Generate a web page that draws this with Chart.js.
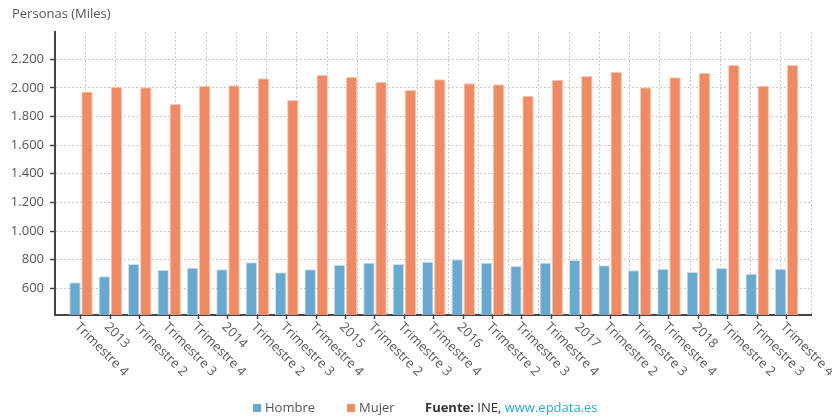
<!DOCTYPE html>
<html>
<head>
<meta charset="utf-8">
<script src="https://cdn.jsdelivr.net/npm/chart.js@4/dist/chart.umd.min.js"></script>
<style>
  html, body { margin: 0; padding: 0; background: #fff; }
  #wrap { position: relative; width: 832px; height: 418px; }
</style>
</head>
<body>
<div id="wrap"><canvas id="myChart" width="832" height="418"></canvas></div>
<script>
const categories = ['Trimestre 4', '2013', 'Trimestre 2', 'Trimestre 3', 'Trimestre 4', '2014',
  'Trimestre 2', 'Trimestre 3', 'Trimestre 4', '2015', 'Trimestre 2', 'Trimestre 3', 'Trimestre 4',
  '2016', 'Trimestre 2', 'Trimestre 3', 'Trimestre 4', '2017', 'Trimestre 2', 'Trimestre 3',
  'Trimestre 4', '2018', 'Trimestre 2', 'Trimestre 3', 'Trimestre 4'];
const hombre = [642, 684, 770, 728, 744, 733, 782, 712, 733, 765, 779, 770, 786,
  803, 779, 756, 779, 798, 761, 726, 735, 714, 742, 702, 737];
const mujer = [1976, 2009, 2004, 1888, 2013, 2018, 2067, 1916, 2090, 2076, 2041, 1986, 2060,
  2032, 2025, 1946, 2058, 2083, 2113, 2004, 2074, 2106, 2160, 2016, 2160];
const yTicks = [600, 800, 1000, 1200, 1400, 1600, 1800, 2000, 2200];

const font = '"Open Sans", "Noto Sans", sans-serif';
const textColor = '#555';

function fmt(v) {
  return String(v).replace(/\B(?=(\d{3})+(?!\d))/g, '.');
}

// title, rotated category labels and footer legend
const extras = {
  id: 'extras',
  afterDraw(chart) {
    const ctx = chart.ctx;
    const xs = chart.scales.x;
    ctx.save();
    ctx.fillStyle = textColor;
    ctx.font = '13px ' + font;
    ctx.textBaseline = 'middle';
    ctx.fillText('Personas (Miles)', 12, 14);

    categories.forEach(function (label, i) {
      const x = xs.getPixelForValue(i);
      ctx.save();
      ctx.translate(x - 4, xs.top + 10);
      ctx.rotate(Math.PI / 4);
      ctx.textAlign = 'left';
      ctx.fillStyle = '#5a5a5a';
      ctx.fillText(label, 0, 0);
      ctx.restore();
    });

    const y = 408;
    const items = [
      { text: 'Hombre', color: chart.data.datasets[0].backgroundColor, x: 253 },
      { text: 'Mujer', color: chart.data.datasets[1].backgroundColor, x: 347 }
    ];
    items.forEach(function (it) {
      ctx.fillStyle = it.color;
      ctx.fillRect(it.x, y - 4, 8, 8);
      ctx.fillStyle = textColor;
      ctx.fillText(it.text, it.x + 12, y);
    });
    ctx.font = 'bold 13px ' + font;
    ctx.fillStyle = '#333';
    ctx.fillText('Fuente:', 425, y);
    let w = ctx.measureText('Fuente: ').width;
    ctx.font = '13px ' + font;
    ctx.fillText('INE,', 425 + w, y);
    w += ctx.measureText('INE, ').width;
    ctx.fillStyle = '#29a8d4';
    ctx.fillText('www.epdata.es', 425 + w, y);
    ctx.restore();
  }
};

const ctx = document.getElementById('myChart').getContext('2d');
const myChart = new Chart(ctx, {
  type: 'bar',
  data: {
    datasets: [{
      label: 'Hombre',
      data: hombre.map((v, i) => ({ x: i, y: v })),
      backgroundColor: '#67a9cf',
      borderColor: '#c6e0f0',
      borderWidth: 1,
      borderSkipped: 'bottom'
    }, {
      label: 'Mujer',
      data: mujer.map((v, i) => ({ x: i, y: v })),
      backgroundColor: '#ef8a62',
      borderColor: '#f9c9b5',
      borderWidth: 1,
      borderSkipped: 'bottom'
    }]
  },
  options: {
    responsive: false,
    animation: false,
    layout: { padding: { top: 32, right: 21, left: 0, bottom: 0 } },
    plugins: {
      legend: { display: false },
      tooltip: { enabled: false }
    },
    datasets: {
      bar: { categoryPercentage: 0.82, barPercentage: 0.95 }
    },
    scales: {
      x: {
        type: 'linear',
        offset: false,
        min: -0.884,
        max: 24.83,
        afterBuildTicks: s => { s.ticks = categories.map((c, i) => ({ value: i })); },
        afterFit: s => { s.height = 103; },
        ticks: { display: false },
        grid: {
          drawOnChartArea: false, drawTicks: true, tickLength: 4,
          tickColor: '#444', tickWidth: 1.5, offset: false
        },
        border: { display: true, color: '#444', width: 2 }
      },
      xgrid: {
        type: 'linear',
        position: 'bottom',
        min: 0,
        max: 24,
        afterFit: s => { s.height = 0; },
        ticks: { display: false, stepSize: 1 },
        grid: { drawTicks: false, color: '#c8c8c8', lineWidth: 1 },
        border: { display: false, dash: [2, 2] }
      },
      y: {
        min: 413,
        max: 2391,
        afterBuildTicks: s => { s.ticks = yTicks.map(v => ({ value: v })); },
        afterFit: s => { s.width = 55; },
        ticks: {
          color: textColor,
          padding: 6,
          font: { family: font, size: 13 },
          callback: v => fmt(v)
        },
        grid: {
          color: '#c8c8c8', tickLength: 5,
          tickColor: '#444', tickBorderDash: [], tickWidth: 1.5
        },
        border: { display: true, color: '#444', width: 2, dash: [2, 2] }
      }
    }
  },
  plugins: [extras]
});
</script>
</body>
</html>
